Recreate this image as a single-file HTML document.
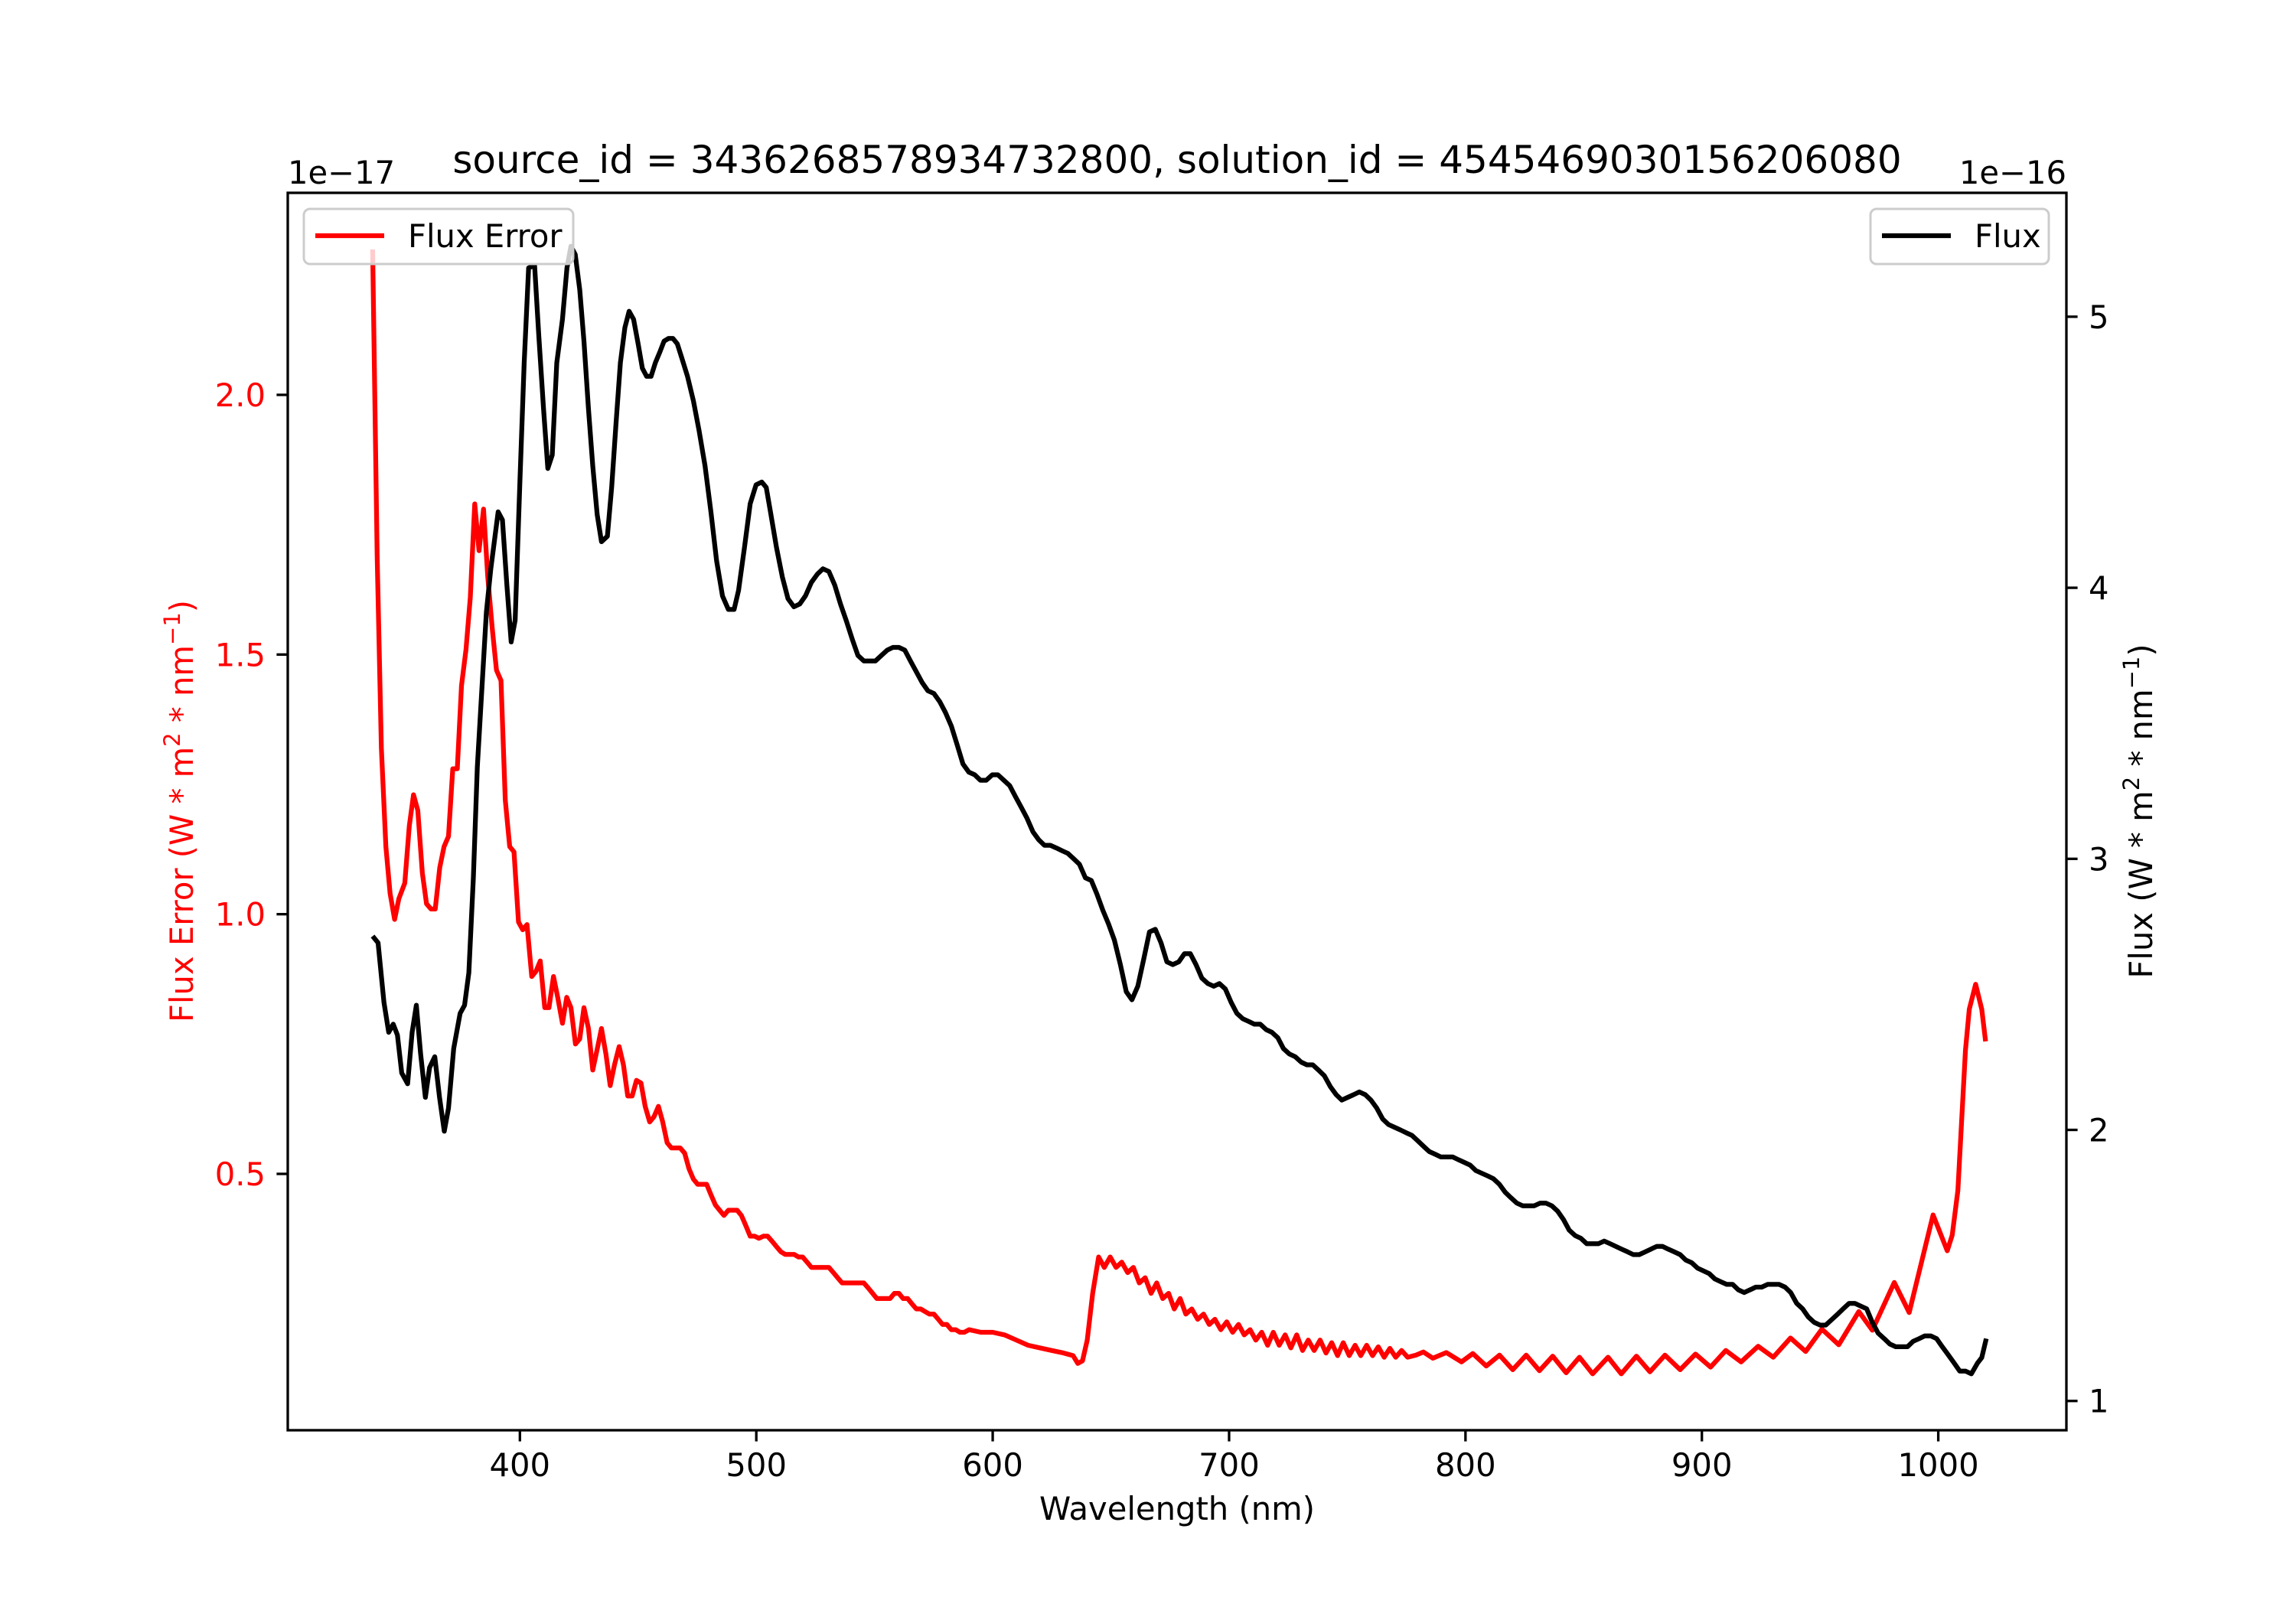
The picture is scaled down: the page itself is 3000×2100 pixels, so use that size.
<!DOCTYPE html>
<html><head><meta charset="utf-8"><style>
html,body{margin:0;padding:0;background:#fff;}
svg{display:block;font-family:"DejaVu Sans","Liberation Sans",sans-serif;}
</style></head><body>
<svg id="chart" width="3000" height="2100" viewBox="0 0 3000 2100" xmlns="http://www.w3.org/2000/svg">
<rect width="3000" height="2100" fill="#fff"/>
<g id="plot"></g>
</svg>
<script>
const fluxWave=[337.7,340,342.5,344.5,346.4,348.2,350,352.5,354.4,356.2,358,360,361.8,364,366,368,369.8,372,374.7,376.6,378.4,380.3,382,384,385.8,387.7,390.8,392.6,394.5,396.3,398,400,401.8,403.7,406.2,408,410,411.8,413.7,415.6,418,419.9,421.6,423.4,425.3,427.1,429,430.8,432.7,434.5,437,438.8,440.7,442.5,444.4,446.2,448.1,450,451.8,453.6,455.5,457.3,459.2,461,462.9,464.7,466.6,468.4,470.9,473.4,475.8,478.3,480.8,483.2,485.7,488.2,490.6,492.5,495,497.4,499.9,502.3,504.2,506,508.5,511,513.4,515.9,518.4,520.8,523.3,525.8,528.2,530.7,533.2,535.6,538,540.6,543,545.5,548,550.4,552.9,555.4,557.8,560.3,562.8,565.2,567.7,570.2,572.6,575.1,577.6,580,582.5,585,587.4,589.9,592.4,594.8,597.3,599.8,602.2,604.7,607.2,609.6,612.1,614.5,617,619.5,621.9,624.4,626.9,629.3,631.8,634.3,636.7,639.2,641.7,644.1,646.6,649,651.5,654,656.5,658.9,661.4,663.9,666.3,668.8,671.2,673.7,676.2,678.7,681.1,683.6,686,688.5,691,693.5,695.9,698.4,700.9,703.3,705.8,708.3,710.7,713.2,715.7,718.1,720.6,723,725.5,728,730.5,732.9,735.4,737.9,740.3,742.8,745.3,747.7,750.2,752.7,755.1,757.6,760,762.5,765,767.4,769.9,772.4,774.8,777.3,779.8,782.2,784.7,787.2,789.6,792,794.6,797,799.5,802,804.4,806.9,809.4,811.8,814.3,816.8,819.2,821.7,824.2,826.6,829.1,831.6,834,836.5,839,841.4,843.9,846.4,848.8,851.3,853.8,856.2,858.7,861.2,863.6,866.1,868.6,871,873.5,876,878.4,880.9,883.4,885.8,888.3,890.8,893.2,895.7,898.2,900.6,903.1,905.5,908,910.5,913,915.4,917.9,920.4,922.8,925.3,927.8,930.2,932.7,935.2,937.6,940.1,942.6,945,947.5,950,952.4,954.9,957.4,959.8,962.3,964.7,967.2,969.7,972.1,974.6,977.1,979.5,982,984.5,987,989.4,991.9,994.3,996.8,999.3,1001.7,1004.2,1006.7,1009.1,1011.6,1014,1016.6,1018.4,1020.3];
const fluxValues=[2.715,2.69,2.47,2.36,2.39,2.35,2.21,2.17,2.36,2.46,2.28,2.12,2.23,2.27,2.12,1.995,2.08,2.30,2.43,2.46,2.58,2.93,3.34,3.64,3.91,4.07,4.28,4.25,4.01,3.80,3.88,4.39,4.83,5.18,5.19,4.93,4.66,4.44,4.49,4.83,4.99,5.18,5.26,5.23,5.10,4.91,4.66,4.45,4.27,4.17,4.19,4.37,4.61,4.83,4.96,5.02,4.99,4.90,4.81,4.78,4.78,4.83,4.87,4.91,4.92,4.92,4.90,4.85,4.78,4.69,4.58,4.45,4.28,4.10,3.97,3.92,3.92,3.99,4.15,4.31,4.38,4.39,4.37,4.28,4.15,4.04,3.96,3.93,3.94,3.97,4.02,4.05,4.07,4.06,4.01,3.94,3.88,3.81,3.75,3.73,3.73,3.73,3.75,3.77,3.78,3.78,3.77,3.73,3.69,3.65,3.62,3.61,3.58,3.54,3.49,3.42,3.35,3.32,3.31,3.29,3.29,3.31,3.31,3.29,3.27,3.23,3.19,3.15,3.10,3.07,3.05,3.05,3.04,3.03,3.02,3.00,2.98,2.93,2.92,2.87,2.81,2.76,2.70,2.61,2.51,2.48,2.53,2.63,2.73,2.74,2.69,2.62,2.61,2.62,2.65,2.65,2.61,2.56,2.54,2.53,2.54,2.52,2.47,2.43,2.41,2.40,2.39,2.39,2.37,2.36,2.34,2.30,2.28,2.27,2.25,2.24,2.24,2.22,2.20,2.16,2.13,2.11,2.12,2.13,2.14,2.13,2.11,2.08,2.04,2.02,2.01,2.00,1.99,1.98,1.96,1.94,1.92,1.91,1.90,1.90,1.90,1.89,1.88,1.87,1.85,1.84,1.83,1.82,1.80,1.77,1.75,1.73,1.72,1.72,1.72,1.73,1.73,1.72,1.70,1.67,1.63,1.61,1.60,1.58,1.58,1.58,1.59,1.58,1.57,1.56,1.55,1.54,1.54,1.55,1.56,1.57,1.57,1.56,1.55,1.54,1.52,1.51,1.49,1.48,1.47,1.45,1.44,1.43,1.43,1.41,1.40,1.41,1.42,1.42,1.43,1.43,1.43,1.42,1.40,1.36,1.34,1.31,1.29,1.28,1.28,1.30,1.32,1.34,1.36,1.36,1.35,1.34,1.29,1.25,1.23,1.21,1.20,1.20,1.20,1.22,1.23,1.24,1.24,1.23,1.20,1.17,1.14,1.11,1.11,1.10,1.14,1.16,1.23];
const errWave=[337.7,339.6,341.4,343.3,345.1,347,348.8,351.3,353.2,355,356.8,358.7,360.5,362.4,364.2,366.1,367.9,369.8,371.6,373.5,375.3,377.2,379,380.9,382.7,384.6,386.4,388.3,390.1,392,393.8,395.7,397.5,399.4,401.2,403,405,406.8,408.6,410.5,412.3,414.2,416,418,419.8,421.6,423.5,425.3,427.1,429,430.8,432.7,434.5,436.4,438.2,440,442,443.8,445.6,447.5,449.3,451.2,453,454.9,456.7,458.6,460.4,462.3,464.1,466,467.8,469.7,471.5,473.4,475.2,477,479,480.8,482.7,484.5,486.3,488.2,490,491.9,493.7,495.6,497.4,499.3,501.1,503,504.8,506.7,508.5,510.4,512.2,514,516,517.8,519.6,521.5,523.3,525.2,527,528.9,530.7,532.6,534.4,536.3,538.1,540,541.8,543.7,545.5,547.4,549.2,551,553,554.8,556.6,558.4,560.3,562.1,564,565.8,567.7,569.5,571.4,573.2,575.1,577,578.8,580.6,582.5,584.3,586.2,588,590,595,600,605,610,615,620,625,630,634,636,638,640,642.3,644.8,647.2,649.7,652.2,654.6,657.1,659.5,662,664.5,667,669.4,671.9,674.4,676.8,679.3,681.7,684.2,686.7,689.2,691.6,694,696.5,699,701.5,704,706.4,708.9,711.3,713.8,716.3,718.7,721.2,723.7,726.1,728.6,731.1,733.5,736,738.5,741,743.4,745.9,748.3,750.8,753.3,755.7,758.2,760.7,763.1,765.6,768,770.5,773,775.5,779,782.2,786.2,791.9,798.3,803.1,808.8,814.4,820,825.7,831.3,836.9,842.6,848.2,853.8,860.3,865.9,872.3,878,884.4,890.8,897.3,903.7,910.1,916.6,923.8,930.2,937.5,943.9,950.8,957.9,966.4,972.1,981.4,987.7,997.8,1003.8,1005.9,1008.3,1011.5,1013.1,1015.8,1018.4,1020];
const errValues=[2.28,1.69,1.32,1.13,1.04,0.99,1.03,1.06,1.17,1.23,1.20,1.08,1.02,1.01,1.01,1.09,1.13,1.15,1.28,1.28,1.44,1.51,1.61,1.79,1.70,1.78,1.65,1.55,1.47,1.45,1.22,1.13,1.12,0.985,0.97,0.98,0.88,0.89,0.91,0.82,0.82,0.88,0.84,0.79,0.84,0.82,0.75,0.76,0.82,0.78,0.70,0.74,0.78,0.73,0.67,0.71,0.745,0.71,0.65,0.65,0.68,0.675,0.63,0.60,0.61,0.63,0.60,0.56,0.55,0.55,0.55,0.54,0.51,0.49,0.48,0.48,0.48,0.46,0.44,0.43,0.42,0.43,0.43,0.43,0.42,0.40,0.38,0.38,0.376,0.38,0.38,0.37,0.36,0.35,0.345,0.345,0.345,0.34,0.34,0.33,0.32,0.32,0.32,0.32,0.32,0.31,0.30,0.29,0.29,0.29,0.29,0.29,0.29,0.28,0.27,0.26,0.26,0.26,0.26,0.27,0.27,0.26,0.26,0.25,0.24,0.24,0.235,0.23,0.23,0.22,0.21,0.21,0.20,0.20,0.195,0.195,0.20,0.195,0.195,0.19,0.18,0.17,0.165,0.16,0.155,0.15,0.135,0.14,0.18,0.27,0.34,0.32,0.34,0.32,0.33,0.31,0.32,0.29,0.30,0.27,0.29,0.26,0.27,0.24,0.26,0.23,0.24,0.22,0.23,0.21,0.22,0.20,0.215,0.195,0.21,0.19,0.20,0.18,0.195,0.17,0.195,0.17,0.19,0.165,0.19,0.16,0.18,0.16,0.18,0.155,0.175,0.15,0.175,0.15,0.17,0.15,0.17,0.15,0.167,0.147,0.164,0.147,0.16,0.147,0.151,0.157,0.145,0.156,0.138,0.154,0.130,0.151,0.123,0.151,0.121,0.149,0.117,0.147,0.115,0.147,0.115,0.149,0.119,0.151,0.123,0.153,0.128,0.160,0.138,0.168,0.147,0.184,0.158,0.201,0.171,0.235,0.199,0.291,0.233,0.421,0.352,0.382,0.468,0.738,0.817,0.865,0.817,0.755];
const xTicks=[400,500,600,700,800,900,1000];
const xTickLabels=["400","500","600","700","800","900","1000"];
const leftTicks=[0.5,1.0,1.5,2.0];
const leftTickLabels=["0.5","1.0","1.5","2.0"];
const rightTicks=[1,2,3,4,5];
const rightTickLabels=["1","2","3","4","5"];

const NS="http://www.w3.org/2000/svg";
const AX={l:376,r:2700,t:252,b:1869};
const XD=[301.8,1054.2], LD=[0.0064,2.389], RD=[0.892,5.457];
const xs=v=>AX.l+(v-XD[0])/(XD[1]-XD[0])*(AX.r-AX.l);
const yl=v=>AX.b-(v-LD[0])/(LD[1]-LD[0])*(AX.b-AX.t);
const yr=v=>AX.b-(v-RD[0])/(RD[1]-RD[0])*(AX.b-AX.t);
const root=document.getElementById('plot');
function mk(tag,attrs,parent){const e=document.createElementNS(NS,tag);for(const k in attrs)e.setAttribute(k,attrs[k]);(parent||root).appendChild(e);return e;}
function txt(s,attrs,parent){const e=mk('text',attrs,parent);e.textContent=s;return e;}

// series
function pathFor(xsArr,ysArr,yf){const n=Math.min(xsArr.length,ysArr.length);let d='';for(let i=0;i<n;i++){d+=(i?'L':'M')+xs(xsArr[i]).toFixed(1)+','+yf(ysArr[i]).toFixed(1);}return d;}
const errLine=mk('path',{d:pathFor(errWave,errValues,yl),fill:'none',stroke:'#ff0000','stroke-width':6.25,'stroke-linejoin':'round','stroke-linecap':'butt'});


const fluxLine=mk('path',{d:pathFor(fluxWave,fluxValues,yr),fill:'none',stroke:'#000','stroke-width':6.25,'stroke-linejoin':'round','stroke-linecap':'butt'});



// axes frame
const frame=mk('rect',{x:AX.l,y:AX.t,width:AX.r-AX.l,height:AX.b-AX.t,fill:'none',stroke:'#000','stroke-width':3.3});



// x ticks
xTicks.forEach((v,i)=>{const x=xs(v);
 const t=mk('line',{x1:x,x2:x,y1:AX.b,y2:AX.b+14.6,stroke:'#000','stroke-width':3.3});
 
 
 const l=txt(xTickLabels[i],{x:x,y:AX.b+60,'font-size':41.7,'text-anchor':'middle',fill:'#000'});
 
 });
// left ticks
leftTicks.forEach((v,i)=>{const y=yl(v);
 const t=mk('line',{x1:AX.l-14.6,x2:AX.l,y1:y,y2:y,stroke:'#000','stroke-width':3.3});
 
 
 const l=txt(leftTickLabels[i],{x:AX.l-29,y:y+15,'font-size':41.7,'text-anchor':'end',fill:'#ff0000'});
 
 });
// right ticks
rightTicks.forEach((v,i)=>{const y=yr(v);
 const t=mk('line',{x1:AX.r,x2:AX.r+14.6,y1:y,y2:y,stroke:'#000','stroke-width':3.3});
 
 
 const l=txt(rightTickLabels[i],{x:AX.r+29,y:y+15,'font-size':41.7,'text-anchor':'start',fill:'#000'});
 
 });
</script>
<svg style="position:absolute;left:0;top:0" width="3000" height="2100" viewBox="0 0 3000 2100" xmlns="http://www.w3.org/2000/svg" font-family="DejaVu Sans, Liberation Sans, sans-serif">
<text x="1538" y="226" font-size="50" text-anchor="middle">source_id = 3436268578934732800, solution_id = 4545469030156206080</text>
<text x="376" y="240" font-size="41.7">1e−17</text>
<text x="2700" y="240" font-size="41.7" text-anchor="end">1e−16</text>
<text x="1538" y="1986" font-size="41.7" text-anchor="middle">Wavelength (nm)</text>
<text transform="translate(252,1060) rotate(-90)" font-size="41.7" text-anchor="middle" fill="#ff0000">Flux Error (W * m<tspan baseline-shift="super" font-size="29">2</tspan> * nm<tspan baseline-shift="super" font-size="29">−1</tspan>)</text>
<text transform="translate(2812,1060) rotate(-90)" font-size="41.7" text-anchor="middle">Flux (W * m<tspan baseline-shift="super" font-size="29">2</tspan> * nm<tspan baseline-shift="super" font-size="29">−1</tspan>)</text>
<g>
<rect x="397" y="273" width="352" height="72" rx="8" fill="#fff" fill-opacity="0.8" stroke="#cccccc" stroke-width="3"/>
<line x1="412" y1="308" x2="502" y2="308" stroke="#ff0000" stroke-width="6.25"/>
<text x="533" y="323" font-size="41.7">Flux Error</text>
</g>
<g>
<rect x="2444" y="273" width="233" height="72" rx="8" fill="#fff" fill-opacity="0.8" stroke="#cccccc" stroke-width="3"/>
<line x1="2459" y1="308" x2="2549" y2="308" stroke="#000" stroke-width="6.25"/>
<text x="2580" y="323" font-size="41.7">Flux</text>
</g>
</svg>
</body></html>
